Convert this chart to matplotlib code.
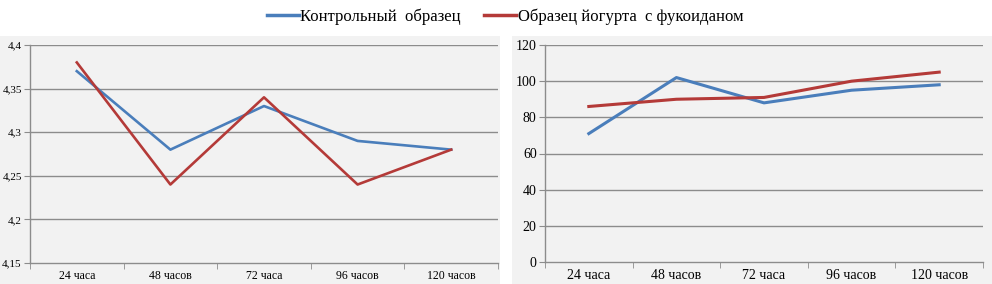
import matplotlib
matplotlib.use("Agg")
import matplotlib.pyplot as plt
from matplotlib.patches import Rectangle
from matplotlib.lines import Line2D
from matplotlib.ticker import FuncFormatter

categories = ["24 часа", "48 часов", "72 часа", "96 часов", "120 часов"]
series_names = ["Контрольный  образец", "Образец йогурта  с фукоиданом"]
ph_control = [4.37, 4.28, 4.33, 4.29, 4.28]
ph_fucoidan = [4.38, 4.24, 4.34, 4.24, 4.28]
acid_control = [71, 102, 88, 95, 98]
acid_fucoidan = [86, 90, 91, 100, 105]

BLUE = "#4a7ebb"
RED = "#b43a38"
BG = "#f2f2f2"
GRID = "#8c8c8c"
FONT = "Liberation Serif"

W, H = 992, 284
fig = plt.figure(figsize=(W / 100, H / 100), dpi=100)
fig.patch.set_facecolor("white")

# grey chart areas
fig.patches.append(Rectangle((0, 0), 500 / W, (H - 36) / H, transform=fig.transFigure,
                             facecolor=BG, edgecolor="none", zorder=-10))
fig.patches.append(Rectangle((512 / W, 0), (W - 512) / W, (H - 36) / H, transform=fig.transFigure,
                             facecolor=BG, edgecolor="none", zorder=-10))


def make_axes(l, r, t, b):
    ax = fig.add_axes([l / W, (H - b) / H, (r - l) / W, (b - t) / H])
    ax.set_zorder(2)
    return ax


def style(ax, ylo, yhi, step, fmt, ysize, xsize):
    x = list(range(len(categories)))
    ax.set_facecolor(BG)
    ax.set_xlim(-0.5, len(categories) - 0.5)
    ax.set_ylim(ylo, yhi)
    n = int(round((yhi - ylo) / step))
    yt = [ylo + i * step for i in range(n + 1)]
    ax.set_yticks(yt)
    ax.yaxis.set_major_formatter(FuncFormatter(fmt))
    for y in yt[1:]:
        ax.axhline(y, color=GRID, lw=1.0, zorder=1)
    ax.set_xticks(x)
    ax.set_xticklabels(categories, fontfamily=FONT, fontsize=xsize)
    ax.set_xticks([i - 0.5 for i in range(len(categories) + 1)], minor=True)
    ax.tick_params(axis="x", which="major", length=0, pad=5)
    ax.tick_params(axis="x", which="minor", length=4, color=GRID, direction="out")
    ax.tick_params(axis="y", length=4, color=GRID, direction="out", pad=2, labelsize=ysize)
    for lab in ax.get_yticklabels():
        lab.set_fontfamily(FONT)
    for s in ["top", "right"]:
        ax.spines[s].set_visible(False)
    for s in ["left", "bottom"]:
        ax.spines[s].set_color(GRID)
        ax.spines[s].set_linewidth(1.0)
    return x


ax1 = make_axes(30, 498, 45, 263)
x = style(ax1, 4.15, 4.40, 0.05,
          lambda v, p: (f"{v:.2f}".rstrip("0").rstrip(".")).replace(".", ","), 8, 8.5)
ax1.plot(x, ph_control, color=BLUE, lw=1.9, zorder=3)
ax1.plot(x, ph_fucoidan, color=RED, lw=1.9, zorder=3)

ax2 = make_axes(545, 983, 45, 262)
x = style(ax2, 0, 120, 20, lambda v, p: f"{v:.0f}", 10, 10)
ax2.plot(x, acid_control, color=BLUE, lw=2.2, zorder=3)
ax2.plot(x, acid_fucoidan, color=RED, lw=2.2, zorder=3)

handles = [Line2D([], [], color=BLUE, lw=2.5), Line2D([], [], color=RED, lw=2.5)]
fig.legend(handles, series_names, loc="center", bbox_to_anchor=(505 / W, (H - 17) / H),
           ncol=2, frameon=False, handlelength=1.9, handletextpad=0.1, columnspacing=1.4,
           prop={"family": FONT, "size": 12})

fig.savefig("out.png", dpi=100, facecolor="white")
